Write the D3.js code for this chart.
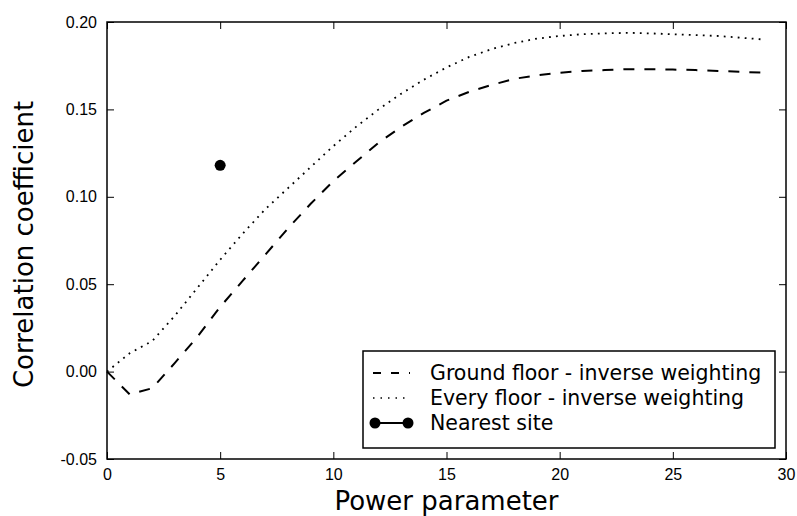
<!DOCTYPE html>
<html>
<head>
<meta charset="utf-8">
<script src="https://cdn.jsdelivr.net/npm/d3@7"></script>
<style>
  body { margin: 0; background: #fff; }
  svg { font-family: "DejaVu Sans", sans-serif; }
  .tick line { stroke: #000; }
</style>
</head>
<body>
<div id="cont"></div>
<script>

// power parameter values (x)
var power = d3.range(0, 30);

// Ground floor - inverse weighting
var groundFloor = [0.000, -0.013, -0.0095, 0.005, 0.020, 0.037, 0.052, 0.067, 0.082, 0.096,
  0.109, 0.120, 0.131, 0.140, 0.148, 0.155, 0.160, 0.164, 0.1675, 0.1695,
  0.171, 0.172, 0.1725, 0.173, 0.173, 0.1728, 0.1725, 0.172, 0.1715, 0.171];

// Every floor - inverse weighting
var everyFloor = [0.000, 0.0105, 0.0175, 0.032, 0.048, 0.064, 0.079, 0.093, 0.105, 0.117,
  0.129, 0.140, 0.150, 0.159, 0.167, 0.174, 0.180, 0.1845, 0.188, 0.1905,
  0.192, 0.193, 0.1935, 0.1938, 0.1935, 0.193, 0.1925, 0.192, 0.191, 0.190];

// Nearest site (single point)
var nearestX = [5];
var nearestY = [0.118];

var xTicks = [0, 5, 10, 15, 20, 25, 30];
var yTicks = [-0.05, 0.00, 0.05, 0.10, 0.15, 0.20];

var legendLabels = ["Ground floor - inverse weighting", "Every floor - inverse weighting", "Nearest site"];

var W = 797, H = 516;
var margin = {left: 107, top: 22, right: 11, bottom: 57};
var width = W - margin.left - margin.right,
  height = H - margin.top - margin.bottom;

var svg = d3.select("#cont").append("svg")
  .attr("width", W)
  .attr("height", H);

var g = svg.append("g")
  .attr("transform", "translate(" + margin.left + "," + margin.top + ")");

var xScale = d3.scaleLinear().domain([0, 30]).range([0, width]),
  yScale = d3.scaleLinear().domain([-0.05, 0.20]).range([height, 0]);

// axes with inward ticks
g.append("g")
  .attr("transform", "translate(0," + height + ")")
  .call(d3.axisBottom(xScale).tickValues(xTicks).tickSizeInner(-7).tickSizeOuter(0).tickPadding(10)
    .tickFormat(d3.format("d")))
  .call(function(a) { a.select(".domain").remove(); })
  .selectAll("text").style("font-size", "16px").attr("fill", "#000");

g.append("g")
  .call(d3.axisLeft(yScale).tickValues(yTicks).tickSizeInner(-7).tickSizeOuter(0).tickPadding(10)
    .tickFormat(function(d) { return (d < 0 ? "-" : "") + Math.abs(d).toFixed(2); }))
  .call(function(a) { a.select(".domain").remove(); })
  .selectAll("text").style("font-size", "16px").attr("fill", "#000");

g.append("g")
  .call(d3.axisTop(xScale).tickValues(xTicks).tickSizeInner(-7).tickSizeOuter(0).tickFormat(""))
  .call(function(a) { a.select(".domain").remove(); });

g.append("g")
  .attr("transform", "translate(" + width + ",0)")
  .call(d3.axisRight(yScale).tickValues(yTicks).tickSizeInner(-7).tickSizeOuter(0).tickFormat(""))
  .call(function(a) { a.select(".domain").remove(); });

// lines
var line = d3.line()
  .x(function(d) { return xScale(d[0]); })
  .y(function(d) { return yScale(d[1]); });

g.append("path")
  .datum(power.map(function(p, i) { return [p, groundFloor[i]]; }))
  .attr("d", line)
  .attr("fill", "none")
  .attr("stroke", "#000")
  .attr("stroke-width", 2)
  .attr("stroke-dasharray", "11,10");

g.append("path")
  .datum(power.map(function(p, i) { return [p, everyFloor[i]]; }))
  .attr("d", line)
  .attr("fill", "none")
  .attr("stroke", "#000")
  .attr("stroke-width", 1.8)
  .attr("stroke-dasharray", "1.8,5.2");

g.selectAll(".nearest")
  .data(nearestX.map(function(x, i) { return [x, nearestY[i]]; }))
  .enter().append("circle")
  .attr("class", "nearest")
  .attr("cx", function(d) { return xScale(d[0]); })
  .attr("cy", function(d) { return yScale(d[1]); })
  .attr("r", 5.5)
  .attr("fill", "#000");

// frame
g.append("rect")
  .attr("width", width)
  .attr("height", height)
  .attr("fill", "none")
  .attr("stroke", "#000")
  .attr("stroke-width", 1.5);

// axis labels
g.append("text")
  .attr("x", width / 2)
  .attr("y", height + 51)
  .attr("text-anchor", "middle")
  .style("font-size", "26px")
  .text("Power parameter");

g.append("text")
  .attr("x", -(height / 2) - 4)
  .attr("y", -74)
  .attr("transform", "rotate(-90)")
  .attr("text-anchor", "middle")
  .style("font-size", "26px")
  .text("Correlation coefficient");

// legend
var lg = svg.append("g").attr("transform", "translate(363,351)");

lg.append("rect")
  .attr("width", 412)
  .attr("height", 97)
  .attr("fill", "#fff")
  .attr("stroke", "#000")
  .attr("stroke-width", 1.5);

var rows = lg.selectAll(".row")
  .data(legendLabels)
  .enter().append("g")
  .attr("class", "row")
  .attr("transform", function(d, i) { return "translate(0," + (22 + i * 25) + ")"; });

rows.append("text")
  .attr("x", 67)
  .attr("y", 7)
  .style("font-size", "20.5px")
  .text(function(d) { return d; });

rows.filter(function(d, i) { return i == 0; }).append("line")
  .attr("x1", 10).attr("x2", 47)
  .attr("stroke", "#000").attr("stroke-width", 2)
  .attr("stroke-dasharray", "8,10");

rows.filter(function(d, i) { return i == 1; }).append("line")
  .attr("x1", 10).attr("x2", 47)
  .attr("stroke", "#000").attr("stroke-width", 1.5)
  .attr("stroke-dasharray", "1.5,6");

var nr = rows.filter(function(d, i) { return i == 2; });
nr.append("line")
  .attr("x1", 12).attr("x2", 45)
  .attr("stroke", "#000").attr("stroke-width", 2);
nr.selectAll("circle")
  .data([12, 45])
  .enter().append("circle")
  .attr("cx", function(d) { return d; })
  .attr("r", 5.5)
  .attr("fill", "#000");

</script>
</body>
</html>
